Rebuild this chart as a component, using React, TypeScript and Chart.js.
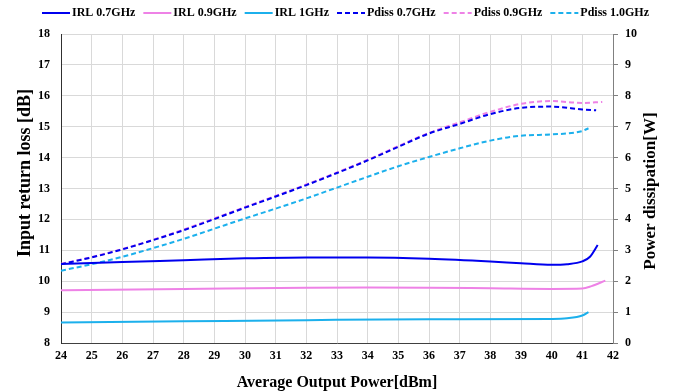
import { useEffect, useRef } from 'react';
import { Chart, registerables } from 'chart.js';

Chart.register(...registerables);

const FONT = "'Liberation Serif', 'Times New Roman', serif";

// Input return loss (left axis, dB)
const irl07X = [24, 26, 28, 30, 32, 34, 36, 38, 39, 40, 40.5, 41, 41.25, 41.5];
const irl07Y = [10.56, 10.62, 10.68, 10.74, 10.77, 10.77, 10.73, 10.64, 10.58, 10.53, 10.55, 10.64, 10.79, 11.17];
const irl09X = [24, 28, 32, 34, 36, 38, 40, 41, 41.3, 41.75];
const irl09Y = [9.71, 9.75, 9.79, 9.8, 9.79, 9.77, 9.75, 9.76, 9.84, 10.02];
const irl1X = [24, 28, 32, 36, 40, 40.5, 41, 41.2];
const irl1Y = [8.66, 8.7, 8.74, 8.77, 8.78, 8.8, 8.89, 9.0];

// Power dissipation (right axis, W)
const pd07X = [24, 25, 26, 27, 28, 29, 30, 31, 32, 33, 34, 35, 36, 37, 38, 39, 40, 41, 41.45];
const pd07Y = [2.55, 2.77, 3.03, 3.33, 3.65, 4.01, 4.38, 4.74, 5.11, 5.5, 5.91, 6.35, 6.78, 7.09, 7.41, 7.61, 7.65, 7.56, 7.53];
const pd09X = [24, 25, 26, 27, 28, 29, 30, 31, 32, 33, 34, 35, 36, 37, 38, 39, 40, 41, 41.65];
const pd09Y = [2.56, 2.78, 3.04, 3.34, 3.67, 4.03, 4.4, 4.76, 5.13, 5.52, 5.93, 6.37, 6.8, 7.14, 7.48, 7.74, 7.83, 7.77, 7.8];
const pd10X = [24, 25, 26, 27, 28, 29, 30, 31, 32, 33, 34, 35, 36, 37, 38, 39, 40, 41, 41.2];
const pd10Y = [2.34, 2.55, 2.79, 3.07, 3.37, 3.7, 4.03, 4.35, 4.68, 5.03, 5.38, 5.72, 6.02, 6.3, 6.55, 6.71, 6.75, 6.86, 6.95];

const seriesLabels = ['IRL 0.7GHz', 'IRL 0.9GHz', 'IRL 1GHz', 'Pdiss 0.7GHz', 'Pdiss 0.9GHz', 'Pdiss 1.0GHz'];
const seriesColors = ['#0000ee', '#ee82e6', '#1cb0ec', '#0000ee', '#ee82e6', '#1cb0ec'];

const xTitle = 'Average Output Power[dBm]';
const yTitle = 'Input return loss [dB]';
const y1Title = 'Power dissipation[W]';

const pts = (xs: number[], ys: number[]) => xs.map((x, i) => ({ x, y: ys[i] }));

const customPlugin = {
  id: 'customDecor',
  afterDraw(chart: any) {
    const ctx = chart.ctx as CanvasRenderingContext2D;
    ctx.save();
    // legend
    ctx.font = `bold 12px ${FONT}`;
    ctx.textBaseline = 'middle';
    ctx.textAlign = 'left';
    let x = 42;
    const y = 13;
    chart.data.datasets.forEach((ds: any) => {
      ctx.strokeStyle = ds.borderColor;
      ctx.lineWidth = 2;
      ctx.setLineDash(ds.borderDash || []);
      ctx.beginPath();
      ctx.moveTo(x, y);
      ctx.lineTo(x + 28, y);
      ctx.stroke();
      ctx.setLineDash([]);
      ctx.fillStyle = '#000';
      ctx.fillText(ds.label, x + 30, y);
      x += 30 + ctx.measureText(ds.label).width + 8;
    });
    // left title
    ctx.save();
    ctx.font = `bold 18px ${FONT}`;
    ctx.textAlign = 'center';
    ctx.translate(25, 173);
    ctx.rotate(-Math.PI / 2);
    ctx.fillText(yTitle, 0, 0);
    ctx.restore();
    // right title
    ctx.save();
    ctx.font = `bold 17px ${FONT}`;
    ctx.textAlign = 'center';
    ctx.translate(651, 191);
    ctx.rotate(-Math.PI / 2);
    ctx.fillText(y1Title, 0, 0);
    ctx.restore();
    ctx.restore();
  },
};

export default function App() {
  const ref = useRef<HTMLCanvasElement>(null);
  useEffect(() => {
    document.body.style.margin = '0';
    const tickFont = { family: FONT, size: 12, weight: 'bold' as const };
    const mk = (i: number, xs: number[], ys: number[], axis: string, dashed: boolean) => ({
      label: seriesLabels[i],
      data: pts(xs, ys),
      borderColor: seriesColors[i],
      backgroundColor: seriesColors[i],
      borderWidth: 2,
      borderDash: dashed ? [5, 3] : [],
      pointRadius: 0,
      cubicInterpolationMode: 'monotone' as const,
      fill: false,
      yAxisID: axis,
    });
    const chart = new Chart(ref.current!, {
      type: 'line',
      data: {
        datasets: [
          mk(0, irl07X, irl07Y, 'y', false),
          mk(1, irl09X, irl09Y, 'y', false),
          mk(2, irl1X, irl1Y, 'y', false),
          mk(3, pd07X, pd07Y, 'y1', true),
          mk(4, pd09X, pd09Y, 'y1', true),
          mk(5, pd10X, pd10Y, 'y1', true),
        ],
      },
      options: {
        animation: false,
        responsive: true,
        maintainAspectRatio: false,
        layout: { padding: { top: 34, left: 0, right: 0, bottom: 0 } },
        plugins: { legend: { display: false }, tooltip: { enabled: false } },
        scales: {
          x: {
            type: 'linear',
            min: 24,
            max: 42,
            afterFit: (s: any) => { s.height = 49; },
            ticks: { stepSize: 1, color: '#000', font: tickFont, padding: 6, maxRotation: 0 },
            grid: { color: '#d9d9d9', drawTicks: false },
            border: { color: '#404040' },
            title: { display: true, text: xTitle, color: '#000', font: { family: FONT, size: 16, weight: 'bold' }, padding: { top: 2, bottom: 0 } },
          },
          y: {
            position: 'left',
            min: 8,
            max: 18,
            afterFit: (s: any) => { s.width = 61; },
            ticks: { stepSize: 1, color: '#000', font: tickFont, padding: 11 },
            grid: { color: '#d9d9d9', drawTicks: false },
            border: { color: '#303030' },
          },
          y1: {
            position: 'right',
            min: 0,
            max: 10,
            afterFit: (s: any) => { s.width = 60; },
            ticks: { stepSize: 1, color: '#000', font: tickFont, padding: 7 },
            grid: { drawOnChartArea: false, drawTicks: true, tickLength: 5, color: '#808080' },
            border: { color: '#808080' },
          },
        },
      } as any,
      plugins: [customPlugin],
    });
    return () => chart.destroy();
  }, []);
  return (
    <div style={{ width: 673, height: 392, position: 'relative' }}>
      <canvas ref={ref} />
    </div>
  );
}
